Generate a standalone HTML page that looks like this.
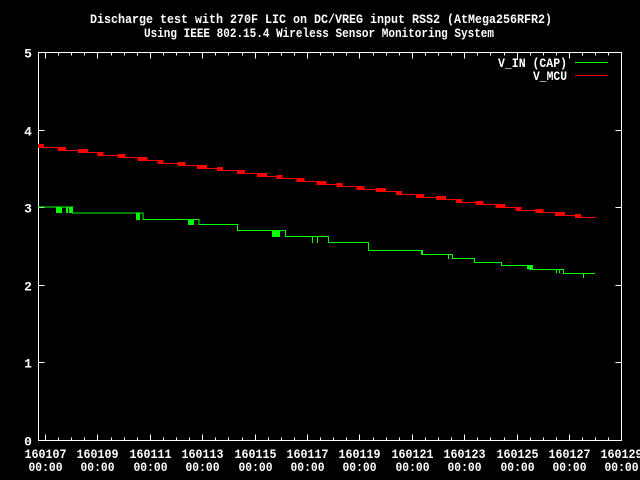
<!DOCTYPE html>
<html><head><style>
html,body{margin:0;padding:0;background:#000;}
svg{display:block;}
text{font-family:"Liberation Mono",monospace;font-weight:bold;font-size:13px;fill:#fff;}
</style></head><body>
<svg id="s" width="640" height="480" viewBox="0 0 640 480" xmlns="http://www.w3.org/2000/svg" shape-rendering="crispEdges">
<rect width="640" height="480" fill="#000"/>
<text x="90" y="23" textLength="462" lengthAdjust="spacingAndGlyphs">Discharge test with 270F LIC on DC/VREG input RSS2 (AtMega256RFR2)</text>
<text x="144" y="37" textLength="350" lengthAdjust="spacingAndGlyphs">Using IEEE 802.15.4 Wireless Sensor Monitoring System</text>
<g id="ax" stroke="#fff" stroke-width="1" fill="none"></g>
<g id="lb"></g>
<g id="red" fill="#f00"></g>
<polyline id="grn" fill="none" stroke="#0f0" stroke-width="1" points=""/>
<g id="gb" fill="#0f0"></g>
<text x="498" y="67" textLength="69" lengthAdjust="spacingAndGlyphs">V_IN (CAP)</text>
<rect x="575" y="62" width="33" height="1" fill="#0f0"/>
<text x="533" y="80" textLength="34" lengthAdjust="spacingAndGlyphs">V_MCU</text>
<rect x="575" y="75" width="33" height="1" fill="#f00"/>
</svg>
<script>
var NS="http://www.w3.org/2000/svg";
function el(p,t,a,txt){var e=document.createElementNS(NS,t);for(var k in a)e.setAttribute(k,a[k]);if(txt!==undefined)e.textContent=txt;document.getElementById(p).appendChild(e);return e;}
var L=38.5,R=621.5,T=52.5,B=440.5;
el("ax","rect",{x:L,y:T,width:R-L,height:B-T});
for(var i=0;i<=5;i++){var y=Math.round(440-i*77.6)+0.5;
 el("ax","line",{x1:L,y1:y,x2:L+6,y2:y});el("ax","line",{x1:R,y1:y,x2:R-6,y2:y});
 el("lb","text",{x:28,y:y+5,"text-anchor":"middle"},String(i));}
for(var k=0;k<=44;k++){var x=Math.round(45+13.1*k)+0.5;if(x>R)break;var len=(k%4==0)?6:3;
 el("ax","line",{x1:x,y1:B,x2:x,y2:B-len});el("ax","line",{x1:x,y1:T,x2:x,y2:T+len});
 if(k%4==0){var d=107+k/2;el("lb","text",{x:x-21,y:458,textLength:42,lengthAdjust:"spacingAndGlyphs"},"160"+d);
 el("lb","text",{x:x-17,y:471,textLength:34,lengthAdjust:"spacingAndGlyphs"},"00:00");}}
var x0=38,x1=595,y0=147,y1=220,n=28;
for(var i=0;i<n;i++){var xa=x0+(x1-x0)*i/n,xb=x0+(x1-x0)*(i+1)/n,y=Math.round(y0+(y1-y0)*i/n);
 el("red","rect",{x:xa,y:y,width:xb-xa+0.5,height:1});
 el("red","rect",{x:xa,y:y-3,width:6+(i%3)*2,height:4});}
var st=[[38,207],[72.7,213],[143,219.5],[199,224.5],[237.7,230.5],[285.3,236.5],[328.3,242.5],[368.7,250.5],[421.7,254.5],[452.3,258.5],[474.3,262.5],[501.7,265.5],[530,269.5],[563.3,273.5],[595,273.5]];
var pts=[];for(var i=0;i<st.length;i++){if(i>0)pts.push(st[i][0]+","+st[i-1][1]);pts.push(st[i][0]+","+st[i][1]);}
document.getElementById("grn").setAttribute("points",pts.join(" "));
var bl=[[56,207,6,6],[66,207,2,6],[69,207,3,6],[136,213,4,7],[188,219,6,6],[272,230,8,7],[312,236,1,7],[317,236,1,7],[422,250,1,5],[448,254,1,5],[527,265,6,4],[556,269,1,4],[559,269,1,4],[583,273,1,5]];
bl.forEach(function(b){el("gb","rect",{x:b[0],y:b[1],width:b[2],height:b[3]});});
</script>
</body></html>
